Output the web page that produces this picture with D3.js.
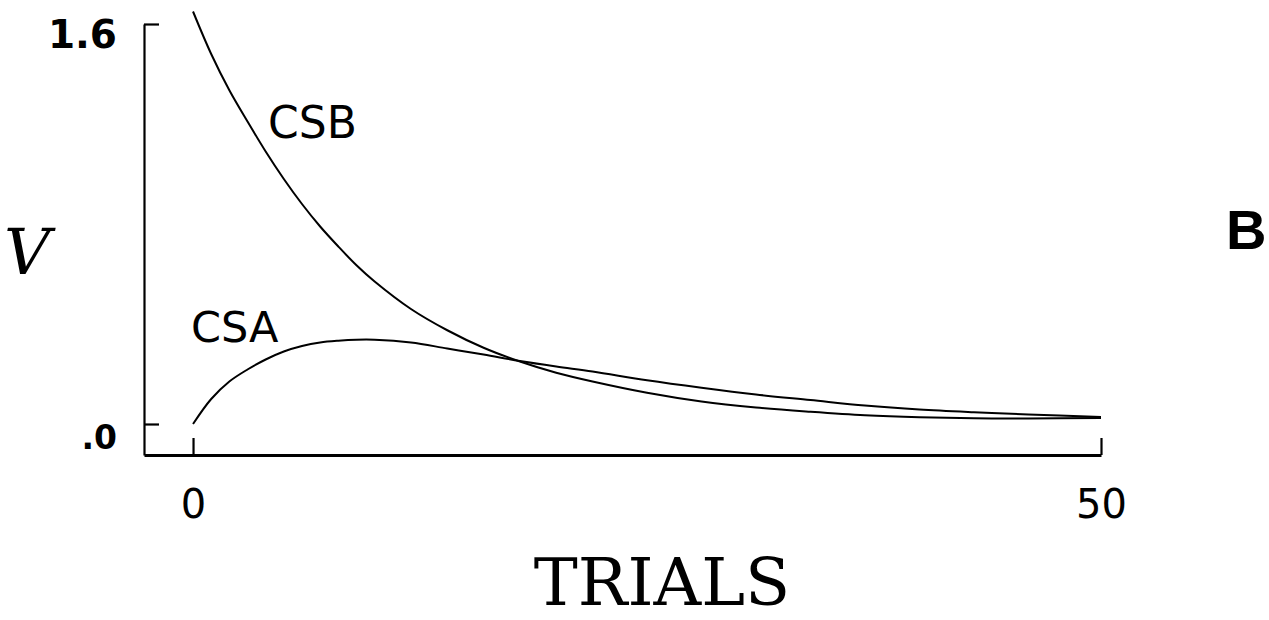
<!DOCTYPE html>
<html>
<head>
<meta charset="utf-8">
<script src="https://cdn.jsdelivr.net/npm/d3@7/dist/d3.min.js"></script>
<style>
  html, body { margin: 0; padding: 0; background: #fff; }
  svg { display: block; }
</style>
</head>
<body>
<svg id="chart" width="1269" height="620"></svg>
<script>
// Associative strength V of two stimuli over 50 trials
const trials = [0, 1, 2, 3, 4, 5, 6, 7, 8, 9, 10, 12, 14, 16, 18, 20, 22, 25, 28, 31, 34, 37, 40, 43, 46, 50];
const csB = [1.65, 1.48, 1.335, 1.21, 1.09, 0.98, 0.88, 0.79, 0.71, 0.635, 0.57, 0.46, 0.375, 0.305, 0.25, 0.205, 0.17, 0.125, 0.09, 0.066, 0.049, 0.035, 0.027, 0.023, 0.022, 0.024];
const csA = [0.0, 0.10, 0.17, 0.218, 0.258, 0.29, 0.312, 0.326, 0.333, 0.337, 0.337, 0.326, 0.302, 0.278, 0.252, 0.23, 0.21, 0.175, 0.145, 0.118, 0.096, 0.074, 0.058, 0.047, 0.038, 0.028];

const seriesNames = ["CSB", "CSA"];
const yTickValues = [0, 1.6];
const yTickLabels = [".0", "1.6"];
const xTickValues = [0, 50];
const xTickLabels = ["0", "50"];
const xTitle = "TRIALS";
const yTitle = "V";
const panelLetter = "B";

const svg = d3.select("#chart");

// Axes start a little before trial 0 and a little below V = 0
const x = d3.scaleLinear().domain([-2.7, 50]).range([144, 1101]);
const y = d3.scaleLinear().domain([-0.124, 1.6]).range([455, 24]);

const sans = "'DejaVu Sans', sans-serif";

// Left axis: inward ticks, labels on the left, sitting just below each tick
const yAxis = d3.axisLeft(y)
  .tickValues(yTickValues)
  .tickFormat((d, i) => yTickLabels[i])
  .tickSizeInner(-15)
  .tickSizeOuter(0)
  .tickPadding(27);

const gy = svg.append("g").attr("transform", `translate(${x.range()[0]},0)`).call(yAxis);
gy.select(".domain").attr("stroke", "#000").attr("stroke-width", 2.2);
gy.selectAll(".tick line").attr("stroke", "#000").attr("stroke-width", 2.2);
gy.selectAll(".tick text")
  .attr("fill", "#000")
  .attr("font-family", sans)
  .attr("font-weight", "bold")
  .attr("font-size", d => d === 0 ? 33 : 39)
  .attr("dy", d => d === 0 ? "24" : "23");

// Bottom axis: upward ticks at trials 0 and 50
const xAxis = d3.axisBottom(x)
  .tickValues(xTickValues)
  .tickFormat((d, i) => xTickLabels[i])
  .tickSizeInner(-17)
  .tickSizeOuter(0);

const gx = svg.append("g").attr("transform", `translate(0,${y.range()[0]})`).call(xAxis);
gx.select(".domain").attr("stroke", "#000").attr("stroke-width", 3);
gx.selectAll(".tick line").attr("stroke", "#000").attr("stroke-width", 2.2);
gx.selectAll(".tick text")
  .attr("fill", "#000")
  .attr("font-family", sans)
  .attr("font-size", 40)
  .attr("y", 63)
  .attr("dy", 0);

// Curves
const line = d3.line()
  .x((d, i) => x(trials[i]))
  .y(d => y(d))
  .curve(d3.curveCatmullRom.alpha(0.5));

svg.append("g")
  .selectAll("path")
  .data([csB, csA])
  .join("path")
  .attr("d", line)
  .attr("fill", "none")
  .attr("stroke", "#000")
  .attr("stroke-width", 2);

// Curve labels
svg.append("text").text(seriesNames[0])
  .attr("x", 268).attr("y", 138)
  .attr("font-family", sans).attr("font-size", 44).attr("fill", "#000");
svg.append("text").text(seriesNames[1])
  .attr("x", 191).attr("y", 342)
  .attr("font-family", sans).attr("font-size", 43).attr("fill", "#000");

// Axis titles and panel letter
svg.append("text").text(xTitle)
  .attr("x", 662).attr("y", 605)
  .attr("text-anchor", "middle")
  .attr("font-family", "'DejaVu Serif', serif")
  .attr("font-size", 66).attr("fill", "#000");

svg.append("text").text(yTitle)
  .attr("x", 4).attr("y", 274)
  .attr("font-family", "'DejaVu Serif', serif")
  .attr("font-style", "italic")
  .attr("font-size", 64).attr("fill", "#000");

svg.append("text").text(panelLetter)
  .attr("x", 1226).attr("y", 249)
  .attr("font-family", "'Liberation Sans', Arial, sans-serif")
  .attr("font-weight", "bold")
  .attr("font-size", 56).attr("fill", "#000");
</script>
</body>
</html>
